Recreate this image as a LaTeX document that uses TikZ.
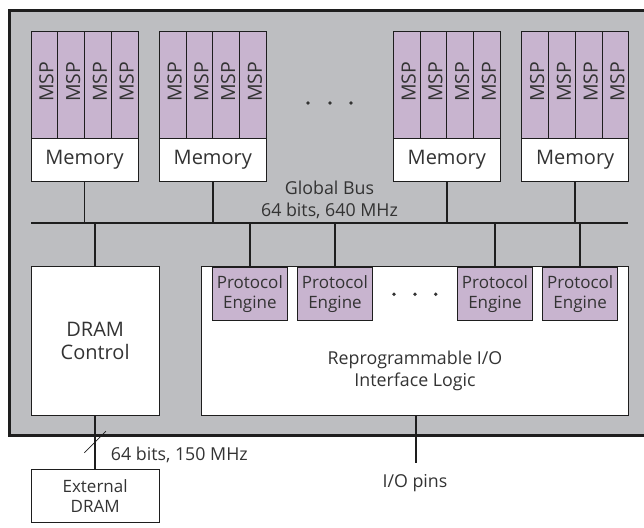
\documentclass[tikz,border=0pt]{standalone}
\usepackage{fontspec}
\setmainfont{Open Sans}
\definecolor{chipgray}{HTML}{BDBEC1}
\definecolor{msppurple}{HTML}{C8B4CF}
\definecolor{ink}{HTML}{333333}
\definecolor{wire}{HTML}{1E1E1E}
\tikzset{
  box/.style={draw=wire, line width=0.8pt, fill=white, inner sep=0pt, text=ink, align=center},
  mspcell/.style={box, fill=msppurple, minimum width=26.75pt, minimum height=106.6pt},
  msplabel/.style={inner sep=0pt, text=ink, rotate=90, anchor=base west,
    font=\fontsize{19.5}{22}\selectfont},
  memblock/.style={box, minimum width=107pt, minimum height=42.7pt,
    font=\fontsize{20}{24}\selectfont},
  engine/.style={box, fill=msppurple, minimum width=75pt, minimum height=53.3pt,
    font=\fontsize{17}{20}\selectfont},
  txt/.style={inner sep=0pt, text=ink, align=center, font=\fontsize{17.8}{22.5}\selectfont},
  buswire/.style={draw=wire, line width=2.2pt},
  link/.style={draw=wire, line width=1.9pt},
  dot/.style={fill=ink, draw=none}
}
\begin{document}
\begin{tikzpicture}[x=1pt,y=-1pt]
\useasboundingbox (0,0) rectangle (644,527);
% chip outline (runs off the right edge)
\draw[fill=chipgray, draw=wire, line width=2.6pt] (9.5,10.5) rectangle (680,435.5);

% processor clusters with their memories
\foreach \i/\xl in {1/31,2/159.3,3/393.3,4/521.7}{
  \foreach \j in {0,1,2,3}{
    \node[mspcell] (msp\i-\j) at (\xl+13.375+26.75*\j, 85) {};
    \node[msplabel] (msptext\i-\j) at (\xl+22.3+26.75*\j, 102) {MSP};
  }
  \node[memblock] (mem\i) at (\xl+53.5, 159.65) {Memory};
}

% ellipsis between clusters
\foreach \x in {308,330,351}{ \fill[dot] (\x,103) circle (1.9pt); }

% global bus
\coordinate (busL) at (31,223.3);
\coordinate (busR) at (628.3,223.3);
\draw[buswire] (busL) -- (busR);
\foreach \i in {1,2,3,4}{ \draw[link] (mem\i.south) -- (mem\i.south |- busL); }
\node[txt] (bustext) at (329.5,200) {Global Bus\\64 bits, 640 MHz};

% DRAM controller
\node[box, minimum width=128.3pt, minimum height=148.3pt, font=\fontsize{20}{23}\selectfont]
  (dram) at (95.15,340.85) {DRAM\\Control};
\draw[link] (dram.north) -- (dram.north |- busL);

% reprogrammable I/O logic and protocol engines
\node[box, minimum width=426.6pt, minimum height=148.3pt] (iologic) at (415,340.85) {};
\node[txt] (iotext) at (415,371) {Reprogrammable I/O\\Interface Logic};
\foreach \k/\cx in {1/249.8,2/335,3/495,4/580.2}{
  \node[engine, anchor=north] (pe\k) at (\cx,266.7) {Protocol\\Engine};
  \draw[link] (pe\k.north) -- (pe\k.north |- busL);
}
\foreach \x in {394,415,435.7}{ \fill[dot] (\x,294.3) circle (1.9pt); }

% external DRAM
\node[box, minimum width=128.3pt, minimum height=53.7pt, font=\fontsize{17}{20}\selectfont]
  (extdram) at (95.15,495.85) {External\\DRAM};
\draw[link] (dram.south) -- (extdram.north) coordinate[pos=0.5] (dmid);
\draw[wire, line width=0.8pt] ([shift={(-10.8,10.8)}]dmid) -- ([shift={(10.8,-10.8)}]dmid);
\node[txt, anchor=base west] (dramtext) at (110.7,460.7) {64 bits, 150 MHz};

% I/O pins
\coordinate (pinsend) at (415.7,463.3);
\draw[link] (iologic.south -| pinsend) -- (pinsend);
\node[txt] (pinstext) at (415,483) {I/O pins};
\end{tikzpicture}
\end{document}
